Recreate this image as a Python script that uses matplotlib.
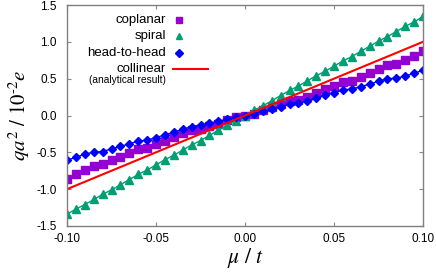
import numpy as np
import matplotlib
matplotlib.use("Agg")
import matplotlib.pyplot as plt
from matplotlib.lines import Line2D

plt.rcParams['font.family'] = ['Liberation Sans', 'DejaVu Sans']
plt.rcParams['mathtext.fontset'] = 'stix'

# chemical potential mu/t
mu = [-0.100, -0.095, -0.090, -0.085, -0.080, -0.075, -0.070, -0.065, -0.060, -0.055,
      -0.050, -0.045, -0.040, -0.035, -0.030, -0.025, -0.020, -0.015, -0.010, -0.005,
      0.000, 0.005, 0.010, 0.015, 0.020, 0.025, 0.030, 0.035, 0.040, 0.045,
      0.050, 0.055, 0.060, 0.065, 0.070, 0.075, 0.080, 0.085, 0.090, 0.095, 0.100]

coplanar = [-0.86, -0.80, -0.74, -0.68, -0.66, -0.61, -0.565, -0.51, -0.46, -0.44,
            -0.39, -0.34, -0.29, -0.24, -0.20, -0.185, -0.14, -0.11, -0.066, -0.022,
            0.00, 0.027, 0.072, 0.118, 0.15, 0.195, 0.205, 0.255, 0.305, 0.355,
            0.405, 0.45, 0.468, 0.523, 0.573, 0.628, 0.68, 0.696, 0.75, 0.81, 0.869]

spiral = [-1.34, -1.27, -1.21, -1.14, -1.07, -1.01, -0.94, -0.87, -0.80, -0.74,
          -0.67, -0.60, -0.54, -0.47, -0.40, -0.34, -0.27, -0.20, -0.13, -0.07,
          0.00, 0.07, 0.13, 0.20, 0.27, 0.34, 0.40, 0.47, 0.54, 0.60,
          0.67, 0.74, 0.80, 0.87, 0.94, 1.01, 1.07, 1.14, 1.21, 1.27, 1.345]

head_to_head = [-0.605, -0.568, -0.525, -0.497, -0.49, -0.452, -0.42, -0.385, -0.348, -0.335,
                -0.30, -0.262, -0.225, -0.188, -0.15, -0.13, -0.105, -0.08, -0.05, -0.022,
                0.00, 0.023, 0.055, 0.086, 0.118, 0.16, 0.168, 0.195, 0.232, 0.273,
                0.31, 0.345, 0.36, 0.39, 0.427, 0.464, 0.50, 0.505, 0.536, 0.573, 0.614]

collinear_mu = [-0.1, 0.1]
collinear = [-1.0, 1.0]

W, H = 436, 273
fig = plt.figure(figsize=(W / 100, H / 100), dpi=100)
ax = fig.add_axes([67 / W, 1 - 226 / H, 356 / W, 221 / H])

sty_cop = dict(color='#9400D3', marker='s')
sty_spi = dict(color='#009E73', marker='^')
sty_hth = dict(color='#0000FF', marker='D')
sty_col = dict(color='#FF0000', lw=1.5)

ax.plot(mu, coplanar, lw=1.0, ms=6.0, **sty_cop)
ax.plot(mu, spiral, lw=1.0, ms=5.6, **sty_spi)
ax.plot(mu, head_to_head, lw=1.0, ms=4.2, **sty_hth)
ax.plot(collinear_mu, collinear, **sty_col)

ax.set_xlim(-0.1, 0.1)
ax.set_ylim(-1.5, 1.5)
ax.set_xticks([-0.10, -0.05, 0.00, 0.05, 0.10])
ax.set_xticklabels(['-0.10', '-0.05', '0.00', '0.05', '0.10'])
ax.set_yticks([-1.5, -1.0, -0.5, 0.0, 0.5, 1.0, 1.5])
ax.set_yticklabels(['-1.5', '-1.0', '-0.5', '0.0', '0.5', '1.0', '1.5'])
ax.tick_params(direction='in', top=True, right=True, length=3, width=0.8,
               color='#888888', labelsize=8.5)
ax.tick_params(axis='x', pad=5)
ax.tick_params(axis='y', pad=7.5)
for s in ax.spines.values():
    s.set_color('#808080')
    s.set_linewidth(1.0)

ax.set_xlabel(r'$\mu\ /\ t$', fontsize=15.5, labelpad=1)
ax.set_ylabel(r'$qa^2\ /\ 10^{\text{-}2}e$', fontsize=15, labelpad=3)

# key: labels right-aligned, sample to the right (gnuplot style)
def px(x, y):
    return x / W, 1 - y / H

entries = [('coplanar', 19.5, sty_cop, 4.8), ('spiral', 36.3, sty_spi, 4.6),
           ('head-to-head', 52.5, sty_hth, 3.6)]
for label, yy, sty, size in entries:
    fig.text(*px(166, yy), label, ha='right', va='center', fontsize=9.5)
    fig.add_artist(Line2D([179 / W], [1 - yy / H], ls='none', ms=size,
                          transform=fig.transFigure, **sty))
fig.text(*px(166, 68.5), 'collinear', ha='right', va='center', fontsize=9.5)
fig.add_artist(Line2D([173 / W, 208 / W], [1 - 69 / H, 1 - 69 / H],
                      transform=fig.transFigure, **sty_col))
fig.text(*px(166, 79.5), '(analytical result)', ha='right', va='center', fontsize=7.3)

fig.savefig('out.png', dpi=100)
